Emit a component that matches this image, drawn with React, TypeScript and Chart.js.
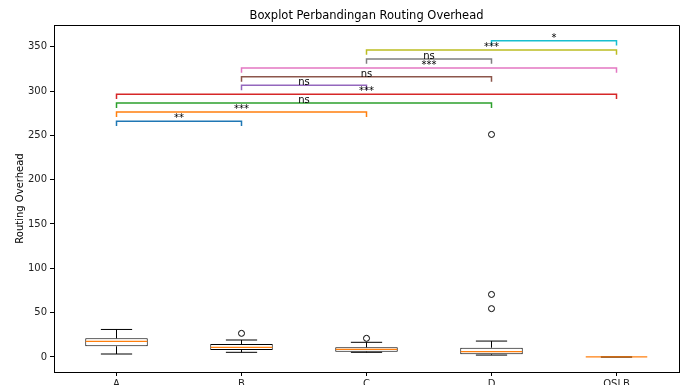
import React, { useEffect, useRef } from 'react';
import { Chart, registerables } from 'chart.js';
Chart.register(...registerables);

const categories = ['A', 'B', 'C', 'D', 'OSLB'];
const whiskerLow = [3.3, 5.2, 5.2, 2.1, 0];
const q1 = [12, 7.8, 5.9, 2.9, 0];
const medians = [17.6, 10.8, 8.6, 5.9, 0];
const q3 = [21, 14.6, 10.8, 10.4, 0];
const whiskerHigh = [31, 19.1, 16.5, 17.9, 0];
const outlierCategories = ['B', 'C', 'D', 'D', 'D'];
const outlierValues = [26.6, 21, 251, 70.5, 54.5];
const yTicks = [0, 50, 100, 150, 200, 250, 300, 350];

const bracketFrom = ['A', 'A', 'A', 'A', 'B', 'B', 'B', 'C', 'C', 'D'];
const bracketTo = ['B', 'C', 'D', 'OSLB', 'C', 'D', 'OSLB', 'D', 'OSLB', 'OSLB'];
const bracketLevel = [266, 276.3, 286.4, 296.5, 306.4, 316, 326, 336.2, 346.3, 356.8];
const bracketLabel = ['**', '***', 'ns', '***', 'ns', 'ns', '***', 'ns', '***', '*'];
const bracketColors = ['#1f77b4', '#ff7f0e', '#2ca02c', '#d62728', '#9467bd', '#8c564b', '#e377c2', '#7f7f7f', '#bcbd22', '#17becf'];
const bracketDrop = 5.5;

const titleText = 'Boxplot Perbandingan Routing Overhead';
const yLabelText = 'Routing Overhead';
const FONT = '"DejaVu Sans", sans-serif';

const boxPlugin = {
  id: 'boxExtras',
  afterDatasetsDraw(chart: any) {
    const { ctx, scales, chartArea } = chart;
    const x = scales.x;
    const y = scales.y;
    const step = x.getPixelForValue(1) - x.getPixelForValue(0);
    const boxHalf = step * 0.25;
    const capHalf = step * 0.125;
    ctx.save();
    ctx.strokeStyle = '#000';
    ctx.lineWidth = 1;
    const line = (x1: number, y1: number, x2: number, y2: number) => {
      ctx.beginPath();
      ctx.moveTo(x1, y1);
      ctx.lineTo(x2, y2);
      ctx.stroke();
    };
    categories.forEach((c, i) => {
      const cx = x.getPixelForValue(i);
      line(cx, y.getPixelForValue(q3[i]), cx, y.getPixelForValue(whiskerHigh[i]));
      line(cx, y.getPixelForValue(q1[i]), cx, y.getPixelForValue(whiskerLow[i]));
      line(cx - capHalf, y.getPixelForValue(whiskerHigh[i]), cx + capHalf, y.getPixelForValue(whiskerHigh[i]));
      line(cx - capHalf, y.getPixelForValue(whiskerLow[i]), cx + capHalf, y.getPixelForValue(whiskerLow[i]));
    });
    ctx.strokeStyle = '#ff7f0e';
    ctx.lineWidth = 1.2;
    categories.forEach((c, i) => {
      const cx = x.getPixelForValue(i);
      const my = y.getPixelForValue(medians[i]);
      line(cx - boxHalf + 0.5, my, cx + boxHalf - 0.5, my);
    });
    ctx.lineWidth = 1.5;
    bracketFrom.forEach((f, i) => {
      const x1 = x.getPixelForValue(categories.indexOf(f));
      const x2 = x.getPixelForValue(categories.indexOf(bracketTo[i]));
      const yl = y.getPixelForValue(bracketLevel[i]);
      const yd = y.getPixelForValue(bracketLevel[i] - bracketDrop);
      ctx.strokeStyle = bracketColors[i];
      ctx.beginPath();
      ctx.moveTo(x1, yd);
      ctx.lineTo(x1, yl);
      ctx.lineTo(x2, yl);
      ctx.lineTo(x2, yd);
      ctx.stroke();
    });
    ctx.fillStyle = '#000';
    ctx.font = '10px ' + FONT;
    ctx.textAlign = 'center';
    ctx.textBaseline = 'alphabetic';
    bracketFrom.forEach((f, i) => {
      const x1 = x.getPixelForValue(categories.indexOf(f));
      const x2 = x.getPixelForValue(categories.indexOf(bracketTo[i]));
      const yl = y.getPixelForValue(bracketLevel[i]);
      ctx.fillText(bracketLabel[i], (x1 + x2) / 2, yl);
    });
    ctx.strokeStyle = '#000';
    ctx.lineWidth = 1;
    ctx.beginPath();
    ctx.moveTo(Math.round(chartArea.left) + 0.5, Math.round(chartArea.top) + 0.5);
    ctx.lineTo(Math.round(chartArea.right) + 0.5, Math.round(chartArea.top) + 0.5);
    ctx.lineTo(Math.round(chartArea.right) + 0.5, Math.round(chartArea.bottom) + 0.5);
    ctx.stroke();
    ctx.font = '11.5px ' + FONT;
    ctx.textBaseline = 'middle';
    ctx.fillText(titleText, (chartArea.left + chartArea.right) / 2, 16);
    ctx.font = '10px ' + FONT;
    ctx.translate(20, (chartArea.top + chartArea.bottom) / 2);
    ctx.rotate(-Math.PI / 2);
    ctx.fillText(yLabelText, 0, 0);
    ctx.restore();
  },
};

export default function App() {
  const ref = useRef<HTMLCanvasElement>(null);
  useEffect(() => {
    if (!ref.current) return;
    const chart = new Chart(ref.current, {
      type: 'bar',
      data: {
        labels: categories,
        datasets: [
          {
            type: 'bar',
            data: categories.map((c, i) => [q1[i], q3[i]]) as any,
            backgroundColor: '#fff',
            borderColor: '#000',
            borderWidth: 1,
            borderSkipped: false,
            barPercentage: 0.5,
            categoryPercentage: 1,
            order: 2,
          } as any,
          {
            type: 'line',
            data: outlierCategories.map((c, i) => ({ x: c, y: outlierValues[i] })) as any,
            showLine: false,
            pointRadius: 3,
            pointStyle: 'circle',
            pointBorderColor: '#000',
            pointBackgroundColor: 'rgba(0,0,0,0)',
            pointBorderWidth: 1,
            borderColor: '#000',
            order: 1,
          } as any,
        ],
      },
      options: {
        animation: false,
        responsive: false,
        devicePixelRatio: 1,
        layout: { padding: { top: 25, right: 7, left: 0, bottom: 0 } },
        plugins: { legend: { display: false }, tooltip: { enabled: false }, title: { display: false } },
        scales: {
          x: {
            type: 'category',
            offset: true,
            grid: { display: true, offset: false, drawOnChartArea: false, drawTicks: true, tickLength: 4, color: '#000' },
            border: { display: true, color: '#000', width: 1 },
            ticks: { color: '#222', font: { family: FONT, size: 10 }, padding: 2, maxRotation: 0 },
            afterFit: (s: any) => { s.height = 13; },
          },
          y: {
            type: 'linear',
            min: -17,
            max: 374.5,
            grid: { display: true, drawOnChartArea: false, drawTicks: true, tickLength: 4, color: '#000' },
            border: { display: true, color: '#000', width: 1 },
            ticks: { color: '#222', font: { family: FONT, size: 10 }, padding: 3 },
            afterBuildTicks: (s: any) => { s.ticks = yTicks.map((v) => ({ value: v })); },
            afterFit: (s: any) => { s.width = 54; },
          },
        },
      } as any,
      plugins: [boxPlugin],
    });
    return () => chart.destroy();
  }, []);
  return (
    <div style={{ position: 'absolute', left: 0, top: 0, width: 686, height: 385, background: '#fff' }}>
      <canvas ref={ref} width={686} height={385} />
    </div>
  );
}
